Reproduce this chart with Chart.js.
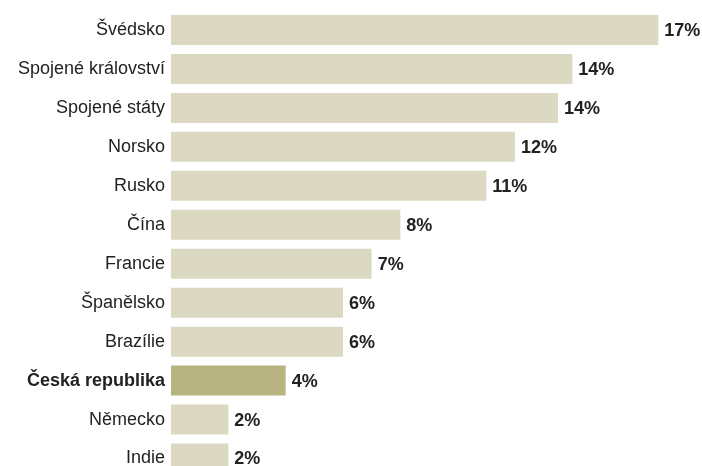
<!DOCTYPE html>
<html>
<head>
<meta charset="utf-8">
<script src="https://cdn.jsdelivr.net/npm/chart.js@4/dist/chart.umd.min.js"></script>
<style>
  html, body { margin: 0; padding: 0; background: #fff; overflow: hidden; }
  canvas { display: block; }
</style>
</head>
<body>
<canvas id="barChart" width="702" height="478"></canvas>
<script>
var countries = ["Švédsko", "Spojené království", "Spojené státy", "Norsko", "Rusko", "Čína",
                 "Francie", "Španělsko", "Brazílie", "Česká republika", "Německo", "Indie"];
var shares = [17, 14, 13.5, 12, 11, 8, 7, 6, 6, 4, 2, 2];
var highlight = "Česká republika";

var barColors = countries.map(function(c) {
    return c === highlight ? "#b8b482" : "#dcd9c3";
});

var valueLabels = {
    id: "valueLabels",
    afterDatasetsDraw: function(chart) {
        var ctx = chart.ctx;
        var meta = chart.getDatasetMeta(0);
        ctx.save();
        ctx.font = "bold 18px 'Liberation Sans', Arial, sans-serif";
        ctx.fillStyle = "#222";
        ctx.textBaseline = "middle";
        ctx.textAlign = "left";
        meta.data.forEach(function(bar, i) {
            ctx.fillText(Math.round(shares[i]) + "%", bar.x + 6, bar.y + 1);
        });
        ctx.restore();
    }
};

var ctx = document.getElementById("barChart");
var chart = new Chart(ctx, {
    type: "bar",
    data: {
        labels: countries,
        datasets: [{
            data: shares,
            backgroundColor: barColors,
            borderWidth: 0,
            barPercentage: 0.77,
            categoryPercentage: 1.0
        }]
    },
    options: {
        indexAxis: "y",
        responsive: false,
        animation: false,
        layout: { padding: { top: 10.5, right: 15, bottom: 0, left: 0 } },
        plugins: { legend: { display: false }, tooltip: { enabled: false } },
        scales: {
            x: {
                display: false,
                min: 0,
                max: 18
            },
            y: {
                grid: { display: false, drawTicks: false },
                border: { display: false },
                afterFit: function(scale) {
                    scale.width = 171;
                    scale.paddingTop = 0;
                    scale.paddingBottom = 0;
                },
                ticks: {
                    color: "#222",
                    padding: 6,
                    font: function(c) {
                        return {
                            family: "'Liberation Sans', Arial, sans-serif",
                            size: 18,
                            weight: countries[c.index] === highlight ? "bold" : "normal"
                        };
                    }
                }
            }
        }
    },
    plugins: [valueLabels]
});
</script>
</body>
</html>
